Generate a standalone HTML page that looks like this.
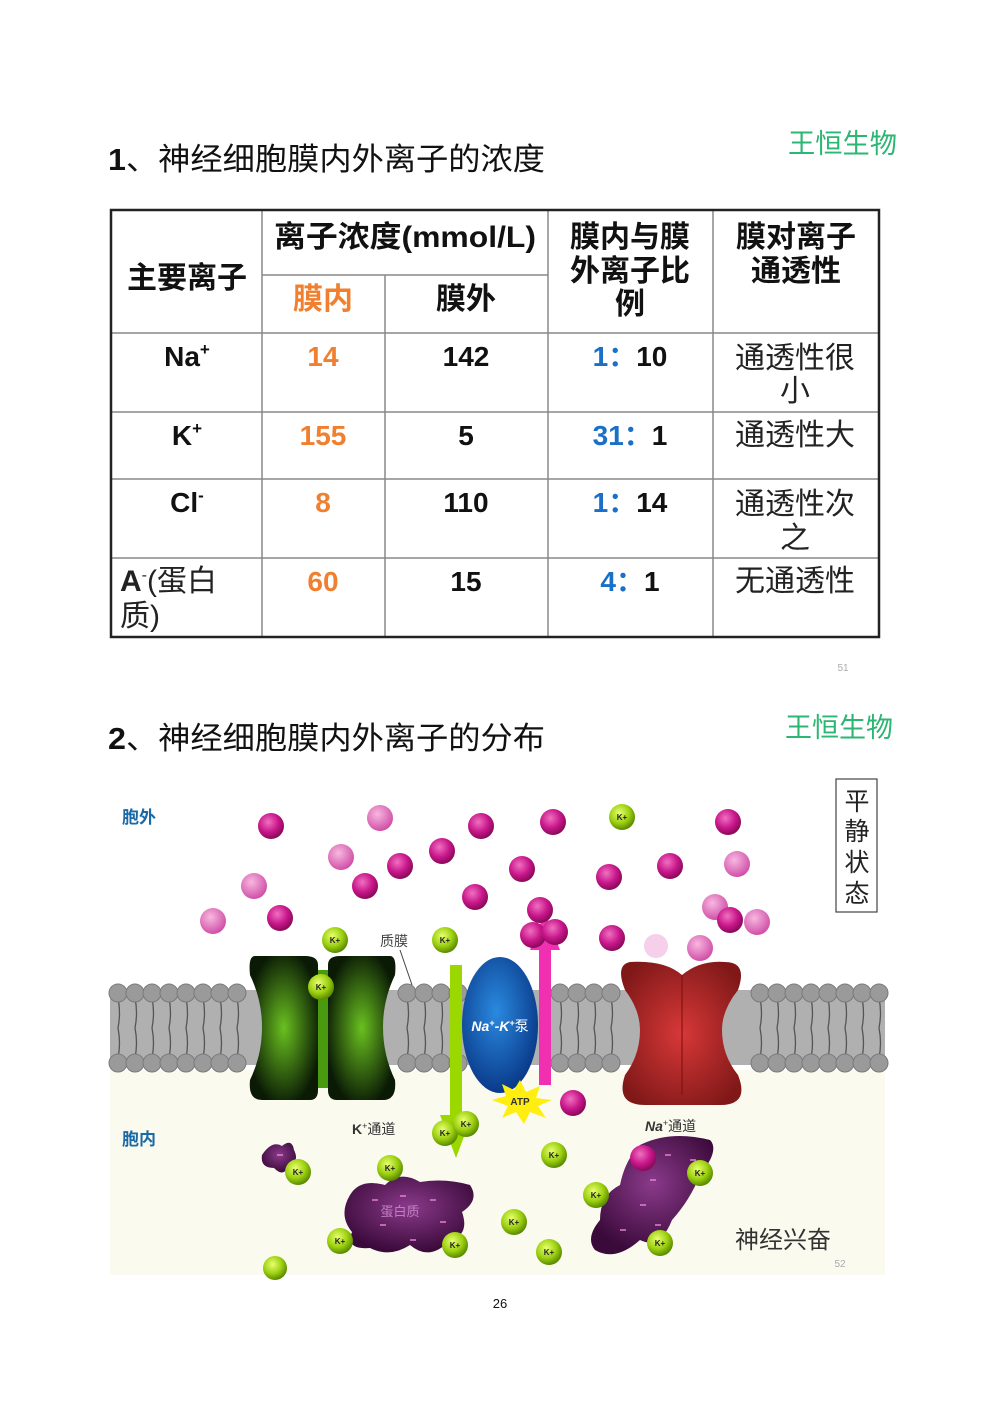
<!DOCTYPE html>
<html><head><meta charset="utf-8"><style>
html,body{margin:0;padding:0;background:#fff}
svg{display:block}
text{font-family:"Liberation Sans","Noto Sans CJK SC",sans-serif}
</style></head><body>
<svg width="1000" height="1414" viewBox="0 0 1000 1414" xmlns="http://www.w3.org/2000/svg">
<defs>
<radialGradient id="na" cx="40%" cy="35%" r="65%"><stop offset="0" stop-color="#f070c0"/><stop offset="0.6" stop-color="#c8168a"/><stop offset="1" stop-color="#8a0a5a"/></radialGradient>
<radialGradient id="nal" cx="40%" cy="35%" r="65%"><stop offset="0" stop-color="#f8b8e0"/><stop offset="1" stop-color="#d050a8"/></radialGradient>
<radialGradient id="k" cx="40%" cy="35%" r="65%"><stop offset="0" stop-color="#e8ff70"/><stop offset="0.6" stop-color="#9cd010"/><stop offset="1" stop-color="#5a8a00"/></radialGradient>
<radialGradient id="pump" cx="45%" cy="40%" r="60%"><stop offset="0" stop-color="#2a8ae0"/><stop offset="1" stop-color="#0a3a8a"/></radialGradient>
<radialGradient id="gch" cx="50%" cy="50%" r="55%"><stop offset="0" stop-color="#6ac020"/><stop offset="1" stop-color="#0a1a05"/></radialGradient>
<radialGradient id="rch" cx="50%" cy="50%" r="60%"><stop offset="0" stop-color="#d83838"/><stop offset="1" stop-color="#801818"/></radialGradient>
<radialGradient id="pr" cx="50%" cy="40%" r="60%"><stop offset="0" stop-color="#8a3a8a"/><stop offset="1" stop-color="#3a0a3a"/></radialGradient>
</defs>

<!-- Title 1 -->
<text x="108" y="170" font-size="31" fill="#111" textLength="437" lengthAdjust="spacingAndGlyphs"><tspan font-weight="bold">1</tspan>、神经细胞膜内外离子的浓度</text>
<text x="788" y="153" font-size="27" fill="#2bb673" textLength="109" lengthAdjust="spacingAndGlyphs">王恒生物</text>

<!-- Table -->
<g stroke="#888" stroke-width="1.5" fill="none">
<line x1="262" y1="210" x2="262" y2="637"/>
<line x1="385" y1="275" x2="385" y2="637"/>
<line x1="548" y1="210" x2="548" y2="637"/>
<line x1="713" y1="210" x2="713" y2="637"/>
<line x1="262" y1="275" x2="548" y2="275"/>
<line x1="111" y1="333" x2="879" y2="333"/>
<line x1="111" y1="412" x2="879" y2="412"/>
<line x1="111" y1="479" x2="879" y2="479"/>
<line x1="111" y1="558" x2="879" y2="558"/>
</g>
<rect x="111" y="210" width="768" height="427" fill="none" stroke="#222" stroke-width="2.5"/>
<g font-size="30" fill="#111" text-anchor="middle" font-weight="bold">
<text x="405" y="247" textLength="262" lengthAdjust="spacingAndGlyphs">离子浓度(mmol/L)</text>
<text x="187" y="288">主要离子</text>
<text x="323" y="309" fill="#f08030">膜内</text>
<text x="466" y="309">膜外</text>
<text x="630" y="247">膜内与膜</text>
<text x="630" y="281">外离子比</text>
<text x="630" y="314">例</text>
<text x="796" y="247">膜对离子</text>
<text x="796" y="281">通透性</text>
</g>
<g font-size="28" fill="#111" text-anchor="middle" font-weight="bold">
<text x="187" y="366">Na<tspan font-size="17" dy="-11">+</tspan></text>
<text x="187" y="445">K<tspan font-size="17" dy="-11">+</tspan></text>
<text x="187" y="512">Cl<tspan font-size="17" dy="-11">-</tspan></text>
<text x="323" y="366" fill="#f08030">14</text>
<text x="323" y="445" fill="#f08030">155</text>
<text x="323" y="512" fill="#f08030">8</text>
<text x="323" y="591" fill="#f08030">60</text>
<text x="466" y="366">142</text>
<text x="466" y="445">5</text>
<text x="466" y="512">110</text>
<text x="466" y="591">15</text>
<text x="630" y="366"><tspan fill="#1a70c8">1：</tspan>10</text>
<text x="630" y="445"><tspan fill="#1a70c8">31：</tspan>1</text>
<text x="630" y="512"><tspan fill="#1a70c8">1：</tspan>14</text>
<text x="630" y="591"><tspan fill="#1a70c8">4：</tspan>1</text>
</g>
<g font-size="30" fill="#222" text-anchor="middle">
<text x="795" y="368">通透性很</text>
<text x="795" y="401">小</text>
<text x="795" y="445">通透性大</text>
<text x="795" y="514">通透性次</text>
<text x="795" y="548">之</text>
<text x="795" y="591">无通透性</text>
</g>
<text x="120" y="591" font-size="30" fill="#222"><tspan font-weight="bold">A</tspan><tspan font-size="16" dy="-11">-</tspan><tspan dy="11">(蛋白</tspan></text>
<text x="120" y="626" font-size="30" fill="#222">质)</text>
<text x="843" y="671" font-size="10" fill="#aaa" text-anchor="middle">51</text>

<!-- Title 2 -->
<text x="108" y="749" font-size="31" fill="#111" textLength="437" lengthAdjust="spacingAndGlyphs"><tspan font-weight="bold">2</tspan>、神经细胞膜内外离子的分布</text>
<text x="785" y="737" font-size="27" fill="#2bb673" textLength="108" lengthAdjust="spacingAndGlyphs">王恒生物</text>

<!-- Diagram -->
<rect x="110" y="1070" width="775" height="205" fill="#fbfaee"/>
<rect x="110" y="990" width="775" height="75" fill="#b0b0b0"/>
<g stroke="#555" stroke-width="1.3" fill="none">
<path id="tails" d="M118,998 q3,15 0,30 M135,998 q3,15 0,30 M152,998 q3,15 0,30 M169,998 q3,15 0,30 M186,998 q3,15 0,30 M203,998 q3,15 0,30 M220,998 q3,15 0,30 M237,998 q3,15 0,30 M407,998 q3,15 0,30 M424,998 q3,15 0,30 M441,998 q3,15 0,30 M560,998 q3,15 0,30 M577,998 q3,15 0,30 M594,998 q3,15 0,30 M611,998 q3,15 0,30 M760,998 q3,15 0,30 M777,998 q3,15 0,30 M794,998 q3,15 0,30 M811,998 q3,15 0,30 M828,998 q3,15 0,30 M845,998 q3,15 0,30 M862,998 q3,15 0,30 M879,998 q3,15 0,30"/>
<use href="#tails" y="30"/>
</g>
<g fill="#9a9a9a" stroke="#7a7a7a" stroke-width="1">
<circle cx="118" cy="993" r="9"/><circle cx="135" cy="993" r="9"/><circle cx="152" cy="993" r="9"/><circle cx="169" cy="993" r="9"/><circle cx="186" cy="993" r="9"/><circle cx="203" cy="993" r="9"/><circle cx="220" cy="993" r="9"/><circle cx="237" cy="993" r="9"/>
<circle cx="407" cy="993" r="9"/><circle cx="424" cy="993" r="9"/><circle cx="441" cy="993" r="9"/><circle cx="458" cy="993" r="9"/>
<circle cx="560" cy="993" r="9"/><circle cx="577" cy="993" r="9"/><circle cx="594" cy="993" r="9"/><circle cx="611" cy="993" r="9"/>
<circle cx="760" cy="993" r="9"/><circle cx="777" cy="993" r="9"/><circle cx="794" cy="993" r="9"/><circle cx="811" cy="993" r="9"/><circle cx="828" cy="993" r="9"/><circle cx="845" cy="993" r="9"/><circle cx="862" cy="993" r="9"/><circle cx="879" cy="993" r="9"/>
<circle cx="118" cy="1063" r="9"/><circle cx="135" cy="1063" r="9"/><circle cx="152" cy="1063" r="9"/><circle cx="169" cy="1063" r="9"/><circle cx="186" cy="1063" r="9"/><circle cx="203" cy="1063" r="9"/><circle cx="220" cy="1063" r="9"/><circle cx="237" cy="1063" r="9"/>
<circle cx="407" cy="1063" r="9"/><circle cx="424" cy="1063" r="9"/><circle cx="441" cy="1063" r="9"/><circle cx="458" cy="1063" r="9"/>
<circle cx="560" cy="1063" r="9"/><circle cx="577" cy="1063" r="9"/><circle cx="594" cy="1063" r="9"/><circle cx="611" cy="1063" r="9"/>
<circle cx="760" cy="1063" r="9"/><circle cx="777" cy="1063" r="9"/><circle cx="794" cy="1063" r="9"/><circle cx="811" cy="1063" r="9"/><circle cx="828" cy="1063" r="9"/><circle cx="845" cy="1063" r="9"/><circle cx="862" cy="1063" r="9"/><circle cx="879" cy="1063" r="9"/>
</g>
<!-- green K channel -->
<rect x="300" y="970" width="48" height="118" fill="#4a9a10"/>
<path d="M255,956 Q248,956 250,975 Q262,1000 262,1027 Q262,1055 250,1080 Q248,1100 262,1100 L310,1100 Q318,1100 318,1090 L318,965 Q318,956 305,956 Z" fill="url(#gch)"/>
<path d="M390,956 Q397,956 395,975 Q383,1000 383,1027 Q383,1055 395,1080 Q397,1100 383,1100 L337,1100 Q328,1100 328,1090 L328,965 Q328,956 340,956 Z" fill="url(#gch)"/>
<!-- red Na channel -->
<path d="M630,962 Q615,965 625,990 Q640,1010 640,1030 Q640,1055 625,1075 Q615,1105 645,1105 L720,1105 Q750,1105 738,1075 Q722,1055 722,1030 Q722,1010 738,990 Q748,962 725,962 Q700,960 682,975 Q665,960 630,962 Z" fill="url(#rch)"/>
<line x1="682" y1="975" x2="682" y2="1095" stroke="#7a1010" stroke-width="2" opacity="0.5"/>
<!-- arrows -->
<rect x="450" y="965" width="12" height="155" fill="#9ad800"/>
<polygon points="440,1115 472,1115 456,1158" fill="#9ad800"/>
<rect x="539" y="945" width="12" height="140" fill="#f030b0"/>
<polygon points="530,950 560,950 545,912" fill="#f030b0"/>
<!-- pump -->
<ellipse cx="500" cy="1025" rx="38" ry="68" fill="url(#pump)"/>
<text x="500" y="1031" font-family="Liberation Serif,'Noto Serif CJK SC',serif" font-size="14" fill="#fff" font-style="italic" font-weight="bold" text-anchor="middle">Na<tspan font-size="9" dy="-5">+</tspan><tspan dy="5">-K</tspan><tspan font-size="9" dy="-5">+</tspan><tspan dy="5" font-weight="normal" font-style="normal">泵</tspan></text>
<polygon points="520,1080 526,1092 540,1086 536,1098 552,1100 538,1106 546,1118 530,1112 524,1124 516,1112 502,1118 508,1106 492,1100 506,1096 502,1084 514,1090" fill="#ffee10"/>
<text x="520" y="1105" font-family="Liberation Serif,serif" font-size="10" font-weight="bold" text-anchor="middle" fill="#333">ATP</text>
<!-- proteins -->
<path d="M262,1155 Q272,1140 282,1146 Q292,1138 294,1150 Q300,1162 288,1166 Q284,1178 274,1168 Q260,1168 262,1155 Z" fill="url(#pr)"/>
<path d="M350,1195 Q360,1178 385,1185 Q400,1170 420,1182 Q445,1178 470,1185 Q480,1200 462,1212 Q470,1235 450,1240 Q430,1262 410,1245 Q390,1258 370,1248 Q345,1250 352,1232 Q338,1215 350,1195 Z" fill="url(#pr)"/>
<path d="M640,1145 Q670,1130 710,1140 Q720,1150 700,1175 Q690,1200 672,1220 Q660,1250 640,1240 Q615,1262 595,1250 Q585,1238 600,1220 Q600,1195 620,1185 Q625,1160 640,1145 Z" fill="url(#pr)"/>
<g stroke="#e080d0" stroke-width="1.5">
<line x1="372" y1="1200" x2="378" y2="1200"/><line x1="400" y1="1196" x2="406" y2="1196"/><line x1="430" y1="1200" x2="436" y2="1200"/><line x1="380" y1="1225" x2="386" y2="1225"/><line x1="440" y1="1222" x2="446" y2="1222"/><line x1="410" y1="1240" x2="416" y2="1240"/>
<line x1="665" y1="1155" x2="671" y2="1155"/><line x1="690" y1="1160" x2="696" y2="1160"/><line x1="650" y1="1180" x2="656" y2="1180"/><line x1="640" y1="1205" x2="646" y2="1205"/><line x1="620" y1="1230" x2="626" y2="1230"/><line x1="655" y1="1225" x2="661" y2="1225"/><line x1="277" y1="1155" x2="283" y2="1155"/>
</g>
<text x="400" y="1216" font-size="13" fill="#c080c0" text-anchor="middle">蛋白质</text>
<!-- Na+ ions -->
<g>
<circle cx="271" cy="826" r="13" fill="url(#na)"/><circle cx="380" cy="818" r="13" fill="url(#nal)"/><circle cx="481" cy="826" r="13" fill="url(#na)"/><circle cx="553" cy="822" r="13" fill="url(#na)"/><circle cx="728" cy="822" r="13" fill="url(#na)"/>
<circle cx="341" cy="857" r="13" fill="url(#nal)"/><circle cx="400" cy="866" r="13" fill="url(#na)"/><circle cx="442" cy="851" r="13" fill="url(#na)"/><circle cx="522" cy="869" r="13" fill="url(#na)"/><circle cx="609" cy="877" r="13" fill="url(#na)"/><circle cx="670" cy="866" r="13" fill="url(#na)"/><circle cx="737" cy="864" r="13" fill="url(#nal)"/>
<circle cx="254" cy="886" r="13" fill="url(#nal)"/><circle cx="365" cy="886" r="13" fill="url(#na)"/><circle cx="475" cy="897" r="13" fill="url(#na)"/><circle cx="213" cy="921" r="13" fill="url(#nal)"/><circle cx="280" cy="918" r="13" fill="url(#na)"/>
<circle cx="540" cy="910" r="13" fill="url(#na)"/><circle cx="533" cy="935" r="13" fill="url(#na)"/><circle cx="555" cy="932" r="13" fill="url(#na)"/><circle cx="612" cy="938" r="13" fill="url(#na)"/>
<circle cx="715" cy="907" r="13" fill="url(#nal)"/><circle cx="730" cy="920" r="13" fill="url(#na)"/><circle cx="757" cy="922" r="13" fill="url(#nal)"/>
<circle cx="656" cy="946" r="12" fill="#f6d0ea"/><circle cx="700" cy="948" r="13" fill="url(#nal)"/>
<circle cx="573" cy="1103" r="13" fill="url(#na)"/><circle cx="643" cy="1158" r="13" fill="url(#na)"/>
</g>
<!-- K+ ions -->
<g>
<circle cx="622" cy="817" r="13" fill="url(#k)"/><circle cx="335" cy="940" r="13" fill="url(#k)"/><circle cx="445" cy="940" r="13" fill="url(#k)"/><circle cx="321" cy="987" r="13" fill="url(#k)"/>
<circle cx="445" cy="1133" r="13" fill="url(#k)"/><circle cx="466" cy="1124" r="13" fill="url(#k)"/><circle cx="554" cy="1155" r="13" fill="url(#k)"/><circle cx="298" cy="1172" r="13" fill="url(#k)"/>
<circle cx="390" cy="1168" r="13" fill="url(#k)"/><circle cx="700" cy="1173" r="13" fill="url(#k)"/><circle cx="596" cy="1195" r="13" fill="url(#k)"/><circle cx="514" cy="1222" r="13" fill="url(#k)"/>
<circle cx="340" cy="1241" r="13" fill="url(#k)"/><circle cx="455" cy="1245" r="13" fill="url(#k)"/><circle cx="549" cy="1252" r="13" fill="url(#k)"/><circle cx="660" cy="1243" r="13" fill="url(#k)"/><circle cx="275" cy="1268" r="12" fill="url(#k)"/>
</g>
<g font-size="8" fill="#222" text-anchor="middle" font-family="Liberation Serif,serif" font-weight="bold">
<text x="622" y="820">K+</text><text x="335" y="943">K+</text><text x="445" y="943">K+</text><text x="321" y="990">K+</text><text x="445" y="1136">K+</text><text x="466" y="1127">K+</text><text x="554" y="1158">K+</text><text x="298" y="1175">K+</text><text x="390" y="1171">K+</text><text x="700" y="1176">K+</text><text x="596" y="1198">K+</text><text x="514" y="1225">K+</text><text x="340" y="1244">K+</text><text x="455" y="1248">K+</text><text x="549" y="1255">K+</text><text x="660" y="1246">K+</text>
</g>
<!-- labels -->
<text x="122" y="823" font-size="17" font-weight="bold" fill="#1a6aa8">胞外</text>
<text x="122" y="1145" font-size="17" font-weight="bold" fill="#1a6aa8">胞内</text>
<text x="380" y="946" font-size="14" fill="#444">质膜</text>
<line x1="400" y1="950" x2="412" y2="985" stroke="#444" stroke-width="1"/>
<text x="352" y="1134" font-size="14" fill="#333" font-family="Liberation Serif,'Noto Serif CJK SC',serif"><tspan font-weight="bold">K</tspan><tspan font-size="9" dy="-5">+</tspan><tspan dy="5">通道</tspan></text>
<text x="645" y="1131" font-size="14" fill="#333" font-family="Liberation Serif,'Noto Serif CJK SC',serif"><tspan font-weight="bold" font-style="italic">Na</tspan><tspan font-size="9" dy="-5">+</tspan><tspan dy="5">通道</tspan></text>
<rect x="836" y="779" width="41" height="133" fill="#fff" stroke="#444" stroke-width="1.2"/>
<g font-size="25" fill="#222" text-anchor="middle">
<text x="857" y="810">平</text><text x="857" y="840">静</text><text x="857" y="871">状</text><text x="857" y="902">态</text>
</g>
<text x="735" y="1248" font-size="24" fill="#333">神经兴奋</text>
<text x="840" y="1267" font-size="10" fill="#aaa" text-anchor="middle">52</text>

<text x="500" y="1308" font-size="13" fill="#111" text-anchor="middle">26</text>
</svg>
</body></html>
